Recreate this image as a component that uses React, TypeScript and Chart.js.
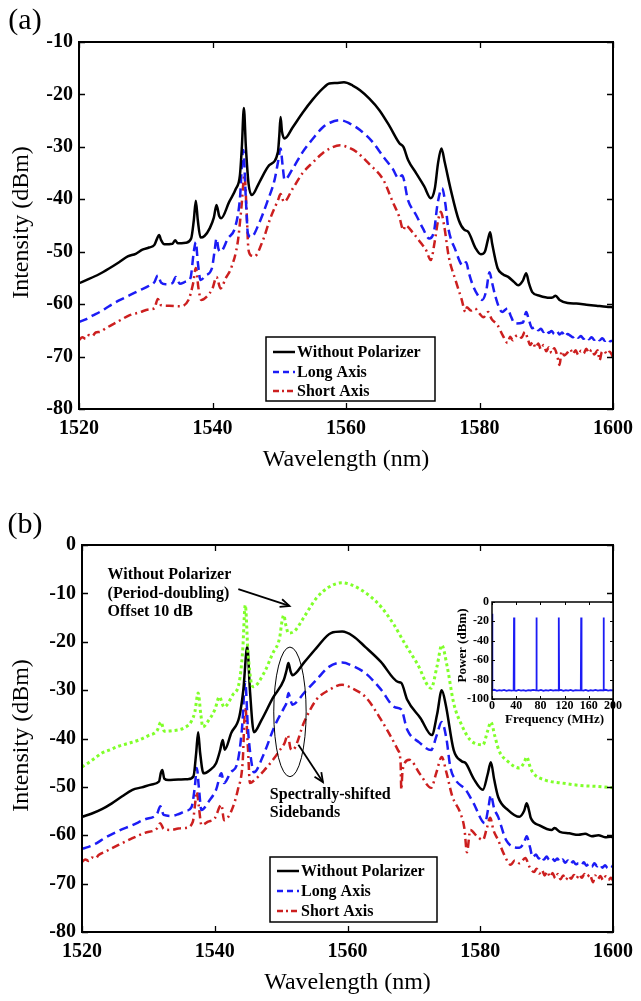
import React, { useEffect, useRef } from "react";
import { Chart, registerables } from "chart.js";

Chart.register(...registerables);

const FONT = "'Liberation Serif', 'Times New Roman', serif";

type Pt = [number, number];

// ---------------- Panel (a) data ----------------
const aWavelengthTicks = [1520, 1540, 1560, 1580, 1600];
const aIntensityTicks = [-80, -70, -60, -50, -40, -30, -20, -10];

const aBlack: Pt[] = [
  [1520, -56.0], [1521.5, -55.2], [1523, -54.3], [1524.5, -53.2], [1526, -52.0], [1527.3, -50.9], [1528.5, -50.4],
  [1529.5, -49.6], [1530.5, -49.2], [1531.3, -48.7], [1531.7, -47.5], [1532, -46.8], [1532.3, -47.8], [1532.8, -48.6],
  [1534, -48.5], [1534.4, -47.8], [1534.8, -48.4], [1536, -48.3], [1536.8, -47.5], [1537.2, -44], [1537.5, -40.3],
  [1537.8, -44], [1538.2, -47.3], [1538.8, -47.0], [1539.6, -45.5], [1540.2, -43.5], [1540.6, -41.1], [1541.0, -43.2],
  [1541.3, -43.6], [1542.5, -40.5], [1543.5, -38], [1544.1, -35.5], [1544.4, -30], [1544.7, -22.6], [1545.0, -30],
  [1545.4, -37], [1545.9, -39.2], [1547, -36.8], [1548.5, -33.5], [1549.8, -31.0], [1550.0, -28], [1550.2, -24.3],
  [1550.4, -27], [1550.8, -28.4], [1552, -26.3], [1553.5, -23.5], [1555, -21.0], [1556.5, -18.9], [1557.5, -17.9],
  [1558.5, -17.8], [1559.7, -17.7], [1561, -18.3], [1562.1, -19.2], [1563.5, -20.8], [1565, -23.0], [1566.5, -26.0],
  [1568, -29.3], [1568.6, -30], [1569.3, -32.5], [1570.5, -35], [1571.7, -37.5], [1572.7, -39.8], [1573.3, -38],
  [1573.8, -33], [1574.3, -30.3], [1574.8, -33], [1575.7, -38.2], [1576.9, -44], [1577.7, -45.8], [1578.3, -46.2],
  [1579.4, -49.3], [1580.2, -50.5], [1580.8, -50], [1581.3, -47.5], [1581.6, -46.3], [1581.9, -48.5], [1582.7, -53.1],
  [1583.5, -54.3], [1584.3, -54.8], [1585.2, -55.8], [1585.8, -56.4], [1586.5, -55.5], [1587, -54.1], [1587.4, -56],
  [1587.9, -57.7], [1589, -58.4], [1590.5, -58.8], [1591, -58.7], [1591.4, -58.4], [1592, -59.2], [1593.2, -59.8],
  [1594.5, -59.9], [1596, -60.1], [1597.5, -60.3], [1599, -60.5], [1600, -60.6],
];

const aBlue: Pt[] = [
  [1520, -63.4], [1521, -62.9], [1522, -62.2], [1523.1, -61.5], [1524.5, -60.4], [1526, -59.3], [1527.6, -58.3],
  [1529, -57.4], [1530.5, -56.5], [1531.3, -55.8], [1531.8, -54.5], [1532.3, -55.9], [1533, -56.2], [1534, -56.0],
  [1534.5, -54.8], [1535.1, -56.1], [1536, -55.7], [1536.7, -55.0], [1537.2, -50], [1537.5, -48.2], [1537.8, -52],
  [1538.2, -55.4], [1539, -54.5], [1539.9, -53.2], [1540.3, -50], [1540.6, -47.5], [1540.9, -49.5], [1541.2, -50.0],
  [1542.3, -47.5], [1543.4, -45.3], [1544.1, -40], [1544.6, -30.6], [1545.0, -40], [1545.3, -46.5], [1545.8, -47.2],
  [1547, -44.5], [1548.2, -40.5], [1549.3, -36.3], [1549.8, -33], [1550.2, -30.3], [1550.5, -33.5], [1550.8, -36.3],
  [1552, -34.2], [1553.5, -31], [1555, -28.5], [1556.5, -26.3], [1557.6, -25.4], [1559.1, -24.9], [1560.5, -25.5],
  [1562.1, -26.8], [1563.8, -28.8], [1565.6, -31.9], [1567, -34.2], [1567.9, -36], [1568.4, -35.4], [1569.3, -40.2],
  [1570.5, -43], [1571.5, -45.5], [1572.5, -47.5], [1573.2, -46], [1573.7, -41], [1574.4, -37.9], [1574.9, -41],
  [1575.3, -45.3], [1576.4, -49.7], [1577.5, -52.6], [1578, -52], [1578.4, -54], [1579, -56.4], [1579.8, -58.4],
  [1580.4, -59.2], [1581, -57.5], [1581.5, -53.9], [1581.9, -56], [1582.4, -58.6], [1583.4, -61.5], [1584.2, -60.8],
  [1584.7, -62.3], [1585.3, -63.7], [1586.5, -63.5], [1587, -61.5], [1587.4, -63], [1587.9, -64.6], [1588.4, -64.4],
  [1588.8, -65.0], [1589.2, -64.7], [1589.6, -65.3], [1590.0, -64.9], [1590.4, -65.5], [1590.8, -65.1], [1591.2, -65.7],
  [1591.6, -65.2], [1592.0, -65.8], [1592.4, -65.4], [1592.8, -66.2], [1593.2, -65.7], [1593.6, -66.0], [1594.0, -66.3],
  [1594.4, -65.9], [1594.8, -66.4], [1595.2, -66.1], [1595.6, -66.6], [1596.0, -66.2], [1596.4, -66.7], [1596.8, -66.3],
  [1597.2, -66.8], [1597.6, -66.4], [1598.0, -66.9], [1598.4, -66.5], [1598.8, -67.0], [1599.2, -66.6], [1599.6, -67.1],
  [1600, -66.9],
];

const aRed: Pt[] = [
  [1520, -66.9], [1520.5, -66.3], [1521, -66.6], [1521.5, -65.9], [1522, -66.1], [1522.5, -65.4], [1523.1, -65.3],
  [1524, -64.6], [1525, -63.9], [1526, -63.2], [1527.6, -62.1], [1529, -61.6], [1530.5, -61.0], [1531.3, -60.8],
  [1531.8, -59.0], [1532.3, -60.2], [1533.5, -60.3], [1535, -60.4], [1536.4, -59.2], [1537.1, -56], [1537.5, -53.1],
  [1537.9, -57], [1538.3, -59.2], [1539.1, -58.6], [1540, -57.0], [1540.6, -54.8], [1541.2, -57.0], [1542, -55.0],
  [1542.8, -53.1], [1543.8, -48], [1544.3, -42], [1544.8, -35.4], [1545.1, -42], [1545.4, -49.7], [1545.9, -50.8],
  [1546.3, -50.9], [1547.5, -48], [1548.7, -43.5], [1549.8, -40.2], [1550.2, -39.0], [1550.7, -40.5], [1552, -38],
  [1553.5, -35], [1555, -33], [1556.5, -31.2], [1557.6, -30.3], [1559.1, -29.7], [1560.3, -30.1], [1561.6, -31.0],
  [1563.5, -33.3], [1565.6, -36.3], [1567, -40.5], [1568, -43.4], [1568.6, -45.9], [1568.9, -45.0], [1570.1, -46.5],
  [1571.2, -48.3], [1572, -49.7], [1572.7, -51.6], [1573.3, -48], [1573.8, -44], [1574.2, -42.4], [1574.7, -45],
  [1575.4, -51], [1576.4, -55.4], [1577.3, -59], [1577.9, -61.5], [1578.1, -60.6], [1578.7, -61.2], [1579.3, -60.8],
  [1580, -61.8], [1580.6, -62.5], [1581.3, -61.5], [1581.8, -62.8], [1582.7, -64.0], [1583.5, -66.0], [1584.2, -67.4],
  [1584.6, -66.2], [1585.0, -66.9], [1585.3, -66.3], [1585.8, -65.9], [1586.3, -66.4], [1586.8, -65.3], [1587.2, -66.5],
  [1587.6, -67.8], [1588.0, -67.2], [1588.4, -68.3], [1588.8, -67.5], [1589.2, -68.6], [1589.6, -67.8], [1590.0, -69.0],
  [1590.4, -68.2], [1590.8, -69.3], [1591.2, -68.4], [1591.6, -69.6], [1592.0, -71.6], [1592.3, -69.0], [1592.7, -69.8],
  [1593.2, -69.2], [1593.6, -68.6], [1594.0, -69.5], [1594.4, -68.8], [1594.8, -69.7], [1595.2, -68.9], [1595.6, -69.4],
  [1596.0, -68.5], [1596.4, -69.3], [1596.8, -68.7], [1597.2, -69.6], [1597.7, -68.8], [1598.0, -70.7], [1598.3, -69.2],
  [1598.7, -68.9], [1599.1, -69.6], [1599.5, -69.1], [1600, -70.1],
];

// ---------------- Panel (b) data ----------------
const bIntensityTicks = [-80, -70, -60, -50, -40, -30, -20, -10, 0];

const bGreen: Pt[] = [
  [1520, -45.9], [1521, -45.0], [1522, -44.0], [1523, -43.0], [1524.1, -42.4], [1525.5, -41.6], [1527, -41.0],
  [1528.6, -40.3], [1530, -39.4], [1531.3, -38.4], [1531.9, -36.6], [1532.4, -38.5], [1533.5, -38.4], [1535.4, -37.8],
  [1536.5, -36.4], [1537.0, -34.5], [1537.5, -30.6], [1537.9, -35], [1538.2, -37.6], [1539.1, -36.2], [1540.0, -34.1],
  [1540.7, -31.4], [1541.4, -33.5], [1542.7, -31], [1543.7, -28.3], [1544.2, -22], [1544.6, -12.4], [1545.0, -22],
  [1545.5, -28.5], [1545.8, -29.3], [1547.4, -26.5], [1548.7, -22.5], [1549.8, -19.0], [1550.1, -16], [1550.4, -14.5],
  [1550.7, -16.5], [1551.1, -18.2], [1552, -17.8], [1553.5, -14.8], [1555.3, -11.0], [1557.2, -8.7], [1559.2, -7.8],
  [1560.5, -8.2], [1561.6, -8.9], [1563.5, -10.7], [1565.2, -13.0], [1567, -16.5], [1568.6, -20.3], [1570.5, -24.5],
  [1572.6, -29.6], [1573.5, -25], [1574.2, -20.7], [1575, -25], [1576, -32.7], [1577.3, -37.5], [1578.5, -40.3],
  [1580.4, -41.3], [1581.1, -38.5], [1581.6, -36.6], [1582.2, -39.5], [1582.8, -42.4], [1584.2, -44.8], [1585.9, -46.1],
  [1586.6, -45], [1587.0, -43.8], [1587.5, -45.8], [1587.9, -47.0], [1589.8, -48.6], [1592.3, -49.2], [1595, -49.7],
  [1597.5, -49.9], [1600, -50.2],
];

const bBlack: Pt[] = [
  [1520, -56.2], [1521.5, -55.5], [1523, -54.6], [1524.5, -53.4], [1526, -52.0], [1527.6, -50.6], [1529, -50.1],
  [1530.5, -49.5], [1531.6, -48.9], [1531.9, -47.0], [1532.1, -46.5], [1532.4, -48.3], [1533, -48.6], [1534.5, -48.5],
  [1536, -48.4], [1536.8, -47.8], [1537.2, -43], [1537.5, -38.7], [1537.8, -43], [1538.3, -47.2], [1539.2, -46.6],
  [1540.2, -45.1], [1540.8, -42.5], [1541.2, -40.3], [1541.5, -42.3], [1542.5, -38.8], [1543.7, -35.5], [1544.3, -30],
  [1544.9, -21.0], [1545.3, -30], [1545.9, -38.7], [1547, -36.3], [1548.8, -31.5], [1550.4, -27.9], [1550.8, -26],
  [1551.1, -24.4], [1551.4, -26], [1551.7, -26.9], [1553.5, -24.2], [1555.3, -21.3], [1557.5, -18.2], [1559.2, -17.9],
  [1560.8, -18.8], [1562.7, -21.1], [1565, -24.1], [1567.6, -28.3], [1568.1, -28.5], [1569, -32.0], [1571, -35.8],
  [1572.7, -39.3], [1573.5, -35], [1574.2, -30.0], [1574.8, -33], [1576, -42.4], [1577.2, -44.7], [1577.8, -45.1],
  [1579, -48.3], [1580.4, -50.6], [1581.1, -47.5], [1581.6, -44.9], [1582.1, -48.5], [1582.7, -52.1], [1584.2, -54.8],
  [1585.9, -56.2], [1586.6, -55], [1587.0, -53.4], [1587.4, -55.2], [1587.6, -56.4], [1589, -58.0], [1590.8, -58.9],
  [1591.2, -58.5], [1592, -59.3], [1593.4, -59.6], [1594.8, -59.9], [1595.8, -59.7], [1596.8, -60.2], [1597.8, -60.0],
  [1598.8, -60.4], [1599.7, -60.3], [1600, -60.5],
];

const bBlue: Pt[] = [
  [1520, -62.8], [1521, -62.4], [1522, -61.8], [1523.5, -60.5], [1525.5, -59.1], [1527.6, -57.9], [1529.5, -56.7],
  [1531.3, -55.6], [1531.8, -54.0], [1532.3, -55.8], [1533.5, -56.0], [1534.6, -55.6], [1535.6, -55.0], [1536.5, -54.2],
  [1537.0, -50], [1537.3, -46.1], [1537.6, -50], [1538.0, -54.8], [1539.1, -53], [1540.2, -50.6], [1541.0, -47.2],
  [1541.4, -49.2], [1542.4, -47.0], [1543.4, -45.1], [1544.1, -38], [1544.6, -28.3], [1545.0, -38], [1545.6, -45.5],
  [1545.9, -47.0], [1547.3, -43.5], [1549, -37.5], [1550.5, -33.5], [1550.8, -32.7], [1551.1, -30.6], [1551.4, -32],
  [1551.7, -33.0], [1553.5, -30.5], [1555.3, -27.9], [1557.2, -25.2], [1559.2, -24.3], [1560.8, -25.0], [1562.7, -26.5],
  [1565, -29.8], [1567.1, -33.5], [1568.1, -34.0], [1569, -38.2], [1570.8, -40.8], [1572.6, -42.4], [1573.4, -39.5],
  [1574.2, -36.6], [1574.9, -40], [1575.5, -46], [1576.3, -48.6], [1577.8, -50.6], [1579, -53.4], [1580.7, -57.5],
  [1581.2, -54.5], [1581.6, -51.7], [1582.1, -54.5], [1582.7, -56.2], [1583.9, -61.0], [1585.9, -62.6], [1586.6, -61.5],
  [1587.0, -60.2], [1587.5, -62.5], [1587.9, -64.5], [1588.4, -64.0], [1588.8, -64.8], [1589.2, -64.3], [1589.6, -65.0],
  [1590.0, -64.4], [1590.4, -65.1], [1590.8, -64.7], [1591.2, -65.3], [1591.6, -64.8], [1592.0, -65.5], [1592.4, -65.0],
  [1592.8, -65.7], [1593.2, -65.2], [1593.6, -65.9], [1594.0, -65.4], [1594.4, -66.0], [1594.8, -65.8], [1595.2, -66.2],
  [1595.6, -65.6], [1596.0, -66.3], [1596.4, -65.9], [1596.8, -66.5], [1597.2, -65.8], [1597.6, -66.4], [1598.0, -66.0],
  [1598.4, -66.7], [1598.8, -66.2], [1599.2, -66.8], [1599.6, -66.3], [1600, -66.6],
];

const bRed: Pt[] = [
  [1520, -65.5], [1520.5, -65.0], [1521, -65.3], [1521.5, -64.6], [1522, -64.8], [1522.5, -64.1], [1523.5, -63.4],
  [1525.5, -62.0], [1527.6, -60.6], [1529.5, -59.5], [1531.3, -58.6], [1531.8, -57.5], [1532.3, -58.7], [1533.5, -58.9],
  [1534.5, -58.6], [1535.6, -58.5], [1536.7, -57.2], [1537.0, -54], [1537.3, -51.0], [1537.6, -54], [1538.0, -57.9],
  [1539, -57.2], [1540.0, -56.5], [1541.0, -53.7], [1541.4, -56.9], [1542.5, -55.0], [1543.5, -50.5], [1544.2, -45.0],
  [1544.6, -33.5], [1545.0, -42], [1545.3, -49.2], [1546.0, -48.6], [1547.5, -46.5], [1549, -44], [1549.8, -42.4],
  [1550.5, -41], [1551.0, -39.3], [1551.4, -42], [1551.7, -42.4], [1553.5, -36.5], [1555.3, -32.0], [1557.2, -30.0],
  [1559.2, -28.9], [1560.8, -29.7], [1562.7, -31.4], [1565, -36], [1567.6, -42.4], [1568.0, -45], [1568.1, -50.6],
  [1568.3, -46.5], [1569.3, -44.4], [1571, -47.5], [1572.6, -50.2], [1573.4, -47], [1574.2, -43.8], [1574.9, -47],
  [1575.8, -52], [1577, -55.4], [1577.6, -58.5], [1578.0, -63.5], [1578.5, -58.9], [1579.5, -60.2], [1580.4, -61.0],
  [1581, -58.5], [1581.5, -56.4], [1582, -59], [1582.7, -61.0], [1583.6, -64], [1584.6, -66.1], [1585.2, -65.2],
  [1585.9, -65.8], [1586.8, -64.7], [1587.4, -66.5], [1588.1, -67.6], [1588.5, -66.9], [1588.9, -67.9], [1589.3, -67.2],
  [1589.7, -68.3], [1590.1, -67.5], [1590.5, -68.6], [1590.9, -67.8], [1591.3, -68.9], [1591.7, -68.0], [1592.1, -69.1],
  [1592.5, -68.3], [1592.9, -69.2], [1593.3, -68.4], [1593.7, -69.0], [1594.1, -68.2], [1594.5, -68.9], [1594.9, -68.1],
  [1595.3, -68.8], [1595.7, -68.0], [1596.1, -68.6], [1596.5, -68.1], [1597.0, -69.7], [1597.3, -68.3], [1597.7, -69.1],
  [1598.1, -68.4], [1598.5, -69.3], [1598.9, -68.5], [1599.3, -69.2], [1599.7, -68.8], [1600, -69.4],
];

// ---------------- Inset (RF spectrum) data ----------------
const insetFreqTicks = [0, 40, 80, 120, 160, 200];
const insetPowerTicks = [-100, -80, -60, -40, -20, 0];
const insetSpectrum: Pt[] = [
  [0, -12], [0.6, -91], [4, -90.5], [8, -91.6], [12, -90.8], [16, -91.4], [20, -90.6], [24, -91.5], [28, -90.9],
  [32, -91.3], [35.8, -91], [36.4, -16], [37, -91], [40, -91.5], [44, -90.7], [48, -91.3], [52, -90.9], [56, -91.6],
  [60, -90.8], [64, -91.2], [68, -90.6], [72.8, -91.1], [73.4, -16], [74, -91], [77, -91.4], [81, -90.7], [85, -91.5],
  [89, -90.9], [93, -91.3], [97, -90.6], [101, -91.4], [105, -90.8], [109.8, -91.2], [110.4, -16], [111, -91],
  [114, -90.6], [118, -91.5], [122, -90.9], [126, -91.3], [130, -90.7], [134, -91.6], [138, -90.8], [142, -91.2],
  [146.8, -91], [147.4, -16], [148, -91], [151, -91.4], [155, -90.7], [159, -91.5], [163, -90.9], [167, -91.3],
  [171, -90.6], [175, -91.4], [179, -90.8], [183.8, -91.1], [184.4, -16], [185, -91], [188, -90.5], [192, -91.3],
  [196, -90.8], [200, -91.2],
];

// ---------------- Series styling ----------------
const BLACK = "#000000";
const BLUE = "#1c1cf5";
const RED = "#cc1f1f";
const GREEN = "#80ff2a";

const legendRows = [
  { label: "Without Polarizer", color: BLACK, dash: [] as number[] },
  { label: "Long Axis", color: BLUE, dash: [6, 4] },
  { label: "Short Axis", color: RED, dash: [6, 3, 2, 3] },
];

const toXY = (a: Pt[]) => a.map(([x, y]) => ({ x, y }));
const plainLabel = (v: any) => String(v);

function lineDs(label: string, data: Pt[], color: string, dash: number[], width = 2.5) {
  return {
    label,
    data: toXY(data),
    borderColor: color,
    backgroundColor: color,
    borderWidth: width,
    borderDash: dash,
    borderCapStyle: "butt" as const,
    borderJoinStyle: "round" as const,
    pointRadius: 0,
    cubicInterpolationMode: "monotone" as const,
    fill: false,
  };
}

function drawArrow(ctx: CanvasRenderingContext2D, x1: number, y1: number, x2: number, y2: number, head = 9) {
  ctx.beginPath();
  ctx.moveTo(x1, y1);
  ctx.lineTo(x2, y2);
  ctx.stroke();
  const ang = Math.atan2(y2 - y1, x2 - x1);
  ctx.beginPath();
  ctx.moveTo(x2 - head * Math.cos(ang - 0.42), y2 - head * Math.sin(ang - 0.42));
  ctx.lineTo(x2, y2);
  ctx.lineTo(x2 - head * Math.cos(ang + 0.42), y2 - head * Math.sin(ang + 0.42));
  ctx.stroke();
}

function frameAndTicks(chart: any, tickLen: number, boxWidth: number, tickWidth: number) {
  const { ctx, chartArea: a, scales } = chart;
  ctx.save();
  ctx.strokeStyle = "#000";
  ctx.lineWidth = tickWidth;
  ctx.setLineDash([]);
  const xs = scales.x;
  const ys = scales.y;
  xs.ticks.forEach((t: any) => {
    const p = Math.round(xs.getPixelForValue(t.value)) + 0.5;
    ctx.beginPath();
    ctx.moveTo(p, a.bottom);
    ctx.lineTo(p, a.bottom - tickLen);
    ctx.moveTo(p, a.top);
    ctx.lineTo(p, a.top + tickLen);
    ctx.stroke();
  });
  ys.ticks.forEach((t: any) => {
    const p = Math.round(ys.getPixelForValue(t.value)) + 0.5;
    ctx.beginPath();
    ctx.moveTo(a.left, p);
    ctx.lineTo(a.left + tickLen, p);
    ctx.moveTo(a.right, p);
    ctx.lineTo(a.right - tickLen, p);
    ctx.stroke();
  });
  ctx.lineWidth = boxWidth;
  ctx.strokeRect(a.left, a.top, a.right - a.left, a.bottom - a.top);
  ctx.restore();
}

function drawLegend(ctx: CanvasRenderingContext2D, x: number, y: number, w: number, h: number, rowYs: number[]) {
  ctx.save();
  ctx.fillStyle = "#fff";
  ctx.fillRect(x, y, w, h);
  ctx.strokeStyle = "#000";
  ctx.lineWidth = 1.5;
  ctx.setLineDash([]);
  ctx.strokeRect(x, y, w, h);
  legendRows.forEach((r, i) => {
    const ry = y + rowYs[i];
    ctx.strokeStyle = r.color;
    ctx.lineWidth = 2.5;
    ctx.setLineDash(r.dash);
    ctx.beginPath();
    ctx.moveTo(x + 7, ry);
    ctx.lineTo(x + 29, ry);
    ctx.stroke();
    ctx.setLineDash([]);
    ctx.fillStyle = "#000";
    ctx.font = `bold 16px ${FONT}`;
    ctx.textAlign = "left";
    ctx.textBaseline = "middle";
    ctx.fillText(r.label, x + 31, ry + 1);
  });
  ctx.restore();
}

function drawText(ctx: CanvasRenderingContext2D, text: string, x: number, y: number, font: string, align: CanvasTextAlign = "center", rot = 0) {
  ctx.save();
  ctx.fillStyle = "#000";
  ctx.font = font;
  ctx.textAlign = align;
  ctx.textBaseline = "middle";
  ctx.translate(x, y);
  if (rot) ctx.rotate(rot);
  ctx.fillText(text, 0, 0);
  ctx.restore();
}

function mainOptions(yMin: number, yMax: number, yTicks: number[], padTop: number, padRight: number, yWidth: number, xHeight: number, extra: (chart: any) => void) {
  return {
    options: {
      responsive: false,
      animation: false as const,
      layout: { padding: { top: padTop, right: padRight, left: 0, bottom: 0 } },
      plugins: { legend: { display: false }, tooltip: { enabled: false } },
      scales: {
        x: {
          type: "linear" as const,
          min: aWavelengthTicks[0],
          max: aWavelengthTicks[aWavelengthTicks.length - 1],
          grid: { display: false, drawTicks: false, tickLength: 0 },
          border: { display: false },
          afterBuildTicks: (s: any) => {
            s.ticks = aWavelengthTicks.map((v) => ({ value: v }));
          },
          afterFit: (s: any) => {
            s.height = xHeight;
          },
          ticks: { autoSkip: false, maxRotation: 0, padding: 8, color: "#000", callback: plainLabel, font: { family: FONT, size: 20, weight: "bold" as const } },
        },
        y: {
          type: "linear" as const,
          min: yMin,
          max: yMax,
          grid: { display: false, drawTicks: false, tickLength: 0 },
          border: { display: false },
          afterBuildTicks: (s: any) => {
            s.ticks = yTicks.map((v) => ({ value: v }));
          },
          afterFit: (s: any) => {
            s.width = yWidth;
          },
          ticks: { autoSkip: false, padding: 6, color: "#000", callback: plainLabel, font: { family: FONT, size: 20, weight: "bold" as const } },
        },
      },
    },
    plugins: [
      {
        id: "frame",
        afterDraw: (chart: any) => {
          frameAndTicks(chart, 6, 2, 1.3);
          extra(chart);
        },
      },
    ],
  };
}

function PanelA() {
  const ref = useRef<HTMLCanvasElement>(null);
  useEffect(() => {
    const cfg = mainOptions(-80, -10, aIntensityTicks, 42, 22, 79, 91, (chart) => {
      const ctx = chart.ctx as CanvasRenderingContext2D;
      const a = chart.chartArea;
      drawLegend(ctx, 266, 337, 169, 64, [15, 35, 54]);
      drawText(ctx, "Wavelength (nm)", (a.left + a.right) / 2, 460, `24px ${FONT}`);
      drawText(ctx, "Intensity (dBm)", 22, (a.top + a.bottom) / 2 - 3, `24px ${FONT}`, "center", -Math.PI / 2);
      drawText(ctx, "(a)", 25, 21, `30px ${FONT}`);
    });
    const chart = new Chart(ref.current!, {
      type: "line",
      data: {
        datasets: [
          lineDs("Without Polarizer", aBlack, BLACK, []),
          lineDs("Long Axis", aBlue, BLUE, [9, 5]),
          lineDs("Short Axis", aRed, RED, [8, 4, 2, 4]),
        ],
      },
      options: cfg.options as any,
      plugins: cfg.plugins as any,
    });
    return () => chart.destroy();
  }, []);
  return <canvas ref={ref} width={641} height={500} style={{ position: "absolute", left: 0, top: 0, width: 641, height: 500 }} />;
}

function PanelB() {
  const ref = useRef<HTMLCanvasElement>(null);
  useEffect(() => {
    const cfg = mainOptions(-80, 0, bIntensityTicks, 45, 19, 82, 69, (chart) => {
      const ctx = chart.ctx as CanvasRenderingContext2D;
      const a = chart.chartArea;
      const X = (v: number) => chart.scales.x.getPixelForValue(v);
      const Y = (v: number) => chart.scales.y.getPixelForValue(v);
      drawLegend(ctx, 270, 357, 167, 65, [14, 34, 54]);
      drawText(ctx, "Wavelength (nm)", (a.left + a.right) / 2, 483, `24px ${FONT}`);
      drawText(ctx, "Intensity (dBm)", 22, (a.top + a.bottom) / 2 - 3, `24px ${FONT}`, "center", -Math.PI / 2);
      drawText(ctx, "(b)", 25, 25, `30px ${FONT}`);
      const bf = `bold 16px ${FONT}`;
      drawText(ctx, "Without Polarizer", X(1523.85), Y(-6.2), bf, "left");
      drawText(ctx, "(Period-doubling)", X(1523.85), Y(-10.1), bf, "left");
      drawText(ctx, "Offset 10 dB", X(1523.85), Y(-13.85), bf, "left");
      drawText(ctx, "Spectrally-shifted", X(1548.3), Y(-51.7), bf, "left");
      drawText(ctx, "Sidebands", X(1548.3), Y(-55.4), bf, "left");
      ctx.save();
      ctx.strokeStyle = "#000";
      ctx.setLineDash([]);
      ctx.lineWidth = 1.8;
      drawArrow(ctx, X(1543.55), Y(-9.1), X(1551.26), Y(-12.6), 10);
      drawArrow(ctx, X(1552.6), Y(-41.3), X(1556.3), Y(-49.0), 10);
      ctx.lineWidth = 1;
      const cx = X(1551.33);
      const cy = Y(-34.5);
      const rx = X(1551.33 + 2.44) - cx;
      const ry = Y(-34.5 - 13.4) - cy;
      ctx.beginPath();
      ctx.ellipse(cx, cy, rx, ry, 0, 0, Math.PI * 2);
      ctx.stroke();
      ctx.restore();
    });
    const chart = new Chart(ref.current!, {
      type: "line",
      data: {
        datasets: [
          lineDs("Offset 10 dB", bGreen, GREEN, [3, 3], 3),
          lineDs("Without Polarizer", bBlack, BLACK, []),
          lineDs("Long Axis", bBlue, BLUE, [9, 5]),
          lineDs("Short Axis", bRed, RED, [8, 4, 2, 4]),
        ],
      },
      options: cfg.options as any,
      plugins: cfg.plugins as any,
    });
    return () => chart.destroy();
  }, []);
  return <canvas ref={ref} width={641} height={501} style={{ position: "absolute", left: 0, top: 500, width: 641, height: 501 }} />;
}

function Inset() {
  const ref = useRef<HTMLCanvasElement>(null);
  useEffect(() => {
    const tf = { family: FONT, size: 12, weight: "bold" as const };
    const chart = new Chart(ref.current!, {
      type: "line",
      data: {
        datasets: [
          {
            label: "RF",
            data: toXY(insetSpectrum),
            borderColor: BLUE,
            borderWidth: 1.8,
            pointRadius: 0,
            tension: 0,
            fill: false,
          },
        ],
      },
      options: {
        responsive: false,
        animation: false,
        layout: { padding: { top: 12, right: 17, left: 0, bottom: 0 } },
        plugins: { legend: { display: false }, tooltip: { enabled: false } },
        scales: {
          x: {
            type: "linear",
            min: 0,
            max: 200,
            grid: { display: false, drawTicks: false, tickLength: 0 },
            border: { display: false },
            afterBuildTicks: (s: any) => {
              s.ticks = insetFreqTicks.map((v) => ({ value: v }));
            },
            afterFit: (s: any) => {
              s.height = 31;
            },
            ticks: { autoSkip: false, maxRotation: 0, padding: 0, color: "#000", callback: plainLabel, font: tf },
          },
          y: {
            type: "linear",
            min: -100,
            max: 0,
            grid: { display: false, drawTicks: false, tickLength: 0 },
            border: { display: false },
            afterBuildTicks: (s: any) => {
              s.ticks = insetPowerTicks.map((v) => ({ value: v }));
            },
            afterFit: (s: any) => {
              s.width = 52;
            },
            ticks: { autoSkip: false, padding: 3, color: "#000", callback: plainLabel, font: tf },
          },
        },
      } as any,
      plugins: [
        {
          id: "insetFrame",
          beforeDatasetsDraw: (c: any) => {
            const a = c.chartArea;
            c.ctx.save();
            c.ctx.fillStyle = "#fff";
            c.ctx.fillRect(a.left, a.top, a.right - a.left, a.bottom - a.top);
            c.ctx.restore();
          },
          afterDraw: (c: any) => {
            frameAndTicks(c, 3, 1.5, 1);
            const a = c.chartArea;
            const ctx = c.ctx as CanvasRenderingContext2D;
            drawText(ctx, "Frequency (MHz)", (a.left + a.right) / 2 + 2, 130, `bold 13px ${FONT}`);
            drawText(ctx, "Power (dBm)", 23, (a.top + a.bottom) / 2 - 5, `bold 13px ${FONT}`, "center", -Math.PI / 2);
          },
        } as any,
      ],
    });
    return () => chart.destroy();
  }, []);
  return <canvas ref={ref} width={190} height={140} style={{ position: "absolute", left: 440, top: 590, width: 190, height: 140 }} />;
}

export default function App() {
  return (
    <div style={{ position: "absolute", left: 0, top: 0, width: 641, height: 1001, background: "#fff", overflow: "hidden" }}>
      <PanelA />
      <PanelB />
      <Inset />
    </div>
  );
}
